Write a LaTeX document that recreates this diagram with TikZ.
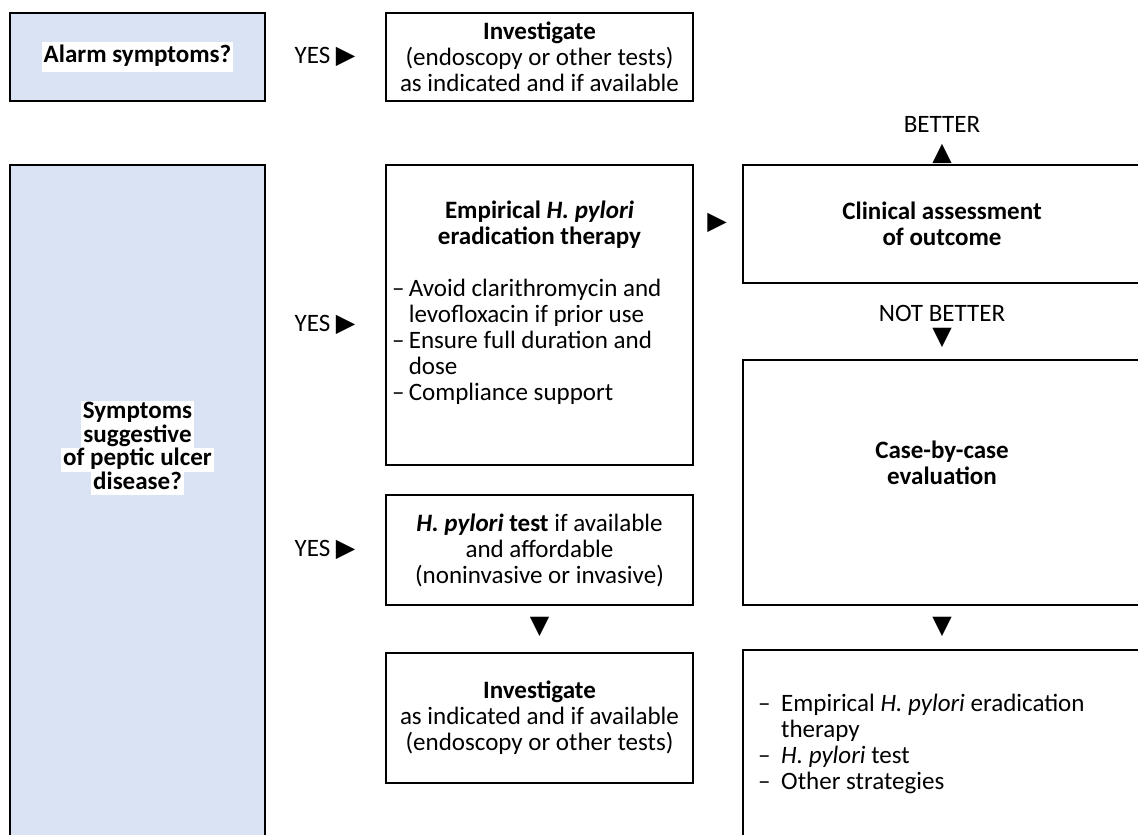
\documentclass[tikz,border=0pt]{standalone}
\usepackage{fontspec}
\setmainfont{Carlito}
\newfontfamily\symfont{DejaVu Sans}
\usetikzlibrary{positioning}
\definecolor{qblue}{HTML}{DAE3F3}
\setlength{\fboxsep}{0pt}
\newcommand{\qtext}[3][-4pt]{\colorbox{white}{\kern1.5pt\rule[#1]{0pt}{#2}\smash{\textbf{#3}}\kern1.5pt}}
\newcommand{\tri}[1]{{\symfont\fontsize{18}{18}\selectfont#1}}
\newcommand{\bul}[1]{\makebox[#1][l]{\textendash}}
\newcommand{\cont}[1]{\hspace*{#1}}
\tikzset{
  every picture/.style={font=\fontsize{17.8}{18.5}\selectfont, line width=2pt},
  box/.style={draw=black, fill=white, minimum width=7.675cm, align=center, inner sep=0pt},
  qbox/.style={box, fill=qblue, minimum width=6.375cm},
  wide/.style={box, minimum width=9.95cm},
  lbl/.style={align=center, inner sep=0pt},
  tight/.style={font=\fontsize{17.8}{16.8}\selectfont},
}

\begin{document}
\begin{tikzpicture}
  \useasboundingbox (0,0) rectangle (28.45,-20.875);
  \clip (0,0) rectangle (28.45,-20.875);
  \node[qbox, minimum height=2.2cm] (alarm) at (3.4375,-1.425) {\qtext[-6.5pt]{21pt}{Alarm symptoms?}};
  \node[lbl] (yes1) at (8.125,-1.425) {YES \tri{▶}};
  \node[box, minimum height=2.2cm] (inv1) at (13.4875,-1.425) {\textbf{Investigate}\\ (endoscopy or other tests)\\ as indicated and if available};
  \node[qbox, minimum height=17.375cm] (pud) at (3.4375,-12.8125) {};
  \node[lbl, tight] (pudtxt) at (3.4375,-11.2) {\qtext{16.8pt}{Symptoms}\\ \qtext{16.8pt}{suggestive}\\ \qtext{16.8pt}{of peptic ulcer}\\ \qtext{16.8pt}{disease?}};
  \node[lbl] (yes2) at (8.125,-8.125) {YES \tri{▶}};
  \node[lbl] (yes3) at (8.125,-13.75) {YES \tri{▶}};
  \node[box, minimum height=7.5cm] (emp) at (13.4875,-7.875) {};
  \node[lbl, below=0.9cm of emp.north] (emphead) {\textbf{Empirical \textit{H. pylori}}\\ \textbf{eradication therapy}};
  \node[lbl, align=flush left, below right=2.85cm and 0.15cm of emp.north west] (emplist) {\bul{0.42cm}Avoid clarithromycin and\\ \cont{0.42cm}levofloxacin if prior use\\ \bul{0.42cm}Ensure full duration and\\ \cont{0.42cm}dose\\ \bul{0.42cm}Compliance support};
  \node[lbl] (next) at (17.925,-5.575) {\tri{▶}};
  \node[wide, minimum height=2.95cm] (clin) at (23.55,-5.6) {\textbf{Clinical assessment}\\ \textbf{of outcome}};
  \node[lbl] (better) at (23.55,-3.1) {BETTER};
  \node[lbl] (up) at (23.55,-3.85) {\tri{▲}};
  \node[lbl] (notbetter) at (23.55,-7.825) {NOT BETTER};
  \node[lbl] (down1) at (23.55,-8.45) {\tri{▼}};
  \node[wide, minimum height=6.125cm] (case) at (23.55,-12.0625) {};
  \node[lbl] (casetxt) at (23.55,-11.575) {\textbf{Case-by-case}\\ \textbf{evaluation}};
  \node[box, minimum height=2.75cm] (test) at (13.4875,-13.75) {\textbf{\textit{H. pylori} test} if available\\ and affordable\\ (noninvasive or invasive)};
  \node[lbl] (down2) at (13.4875,-15.675) {\tri{▼}};
  \node[box, minimum height=3.25cm] (inv2) at (13.4875,-17.95) {\textbf{Investigate}\\ as indicated and if available\\ (endoscopy or other tests)};
  \node[lbl] (down3) at (23.55,-15.675) {\tri{▼}};
  \node[wide, minimum height=4.7cm, text width=9.2cm, align=flush left, inner sep=0.375cm] (other) at (23.55,-18.6) {\bul{0.58cm}Empirical \textit{H. pylori} eradication\\ \cont{0.58cm}therapy\\ \bul{0.58cm}\textit{H. pylori} test\\ \bul{0.58cm}Other strategies};
\end{tikzpicture}
\end{document}
